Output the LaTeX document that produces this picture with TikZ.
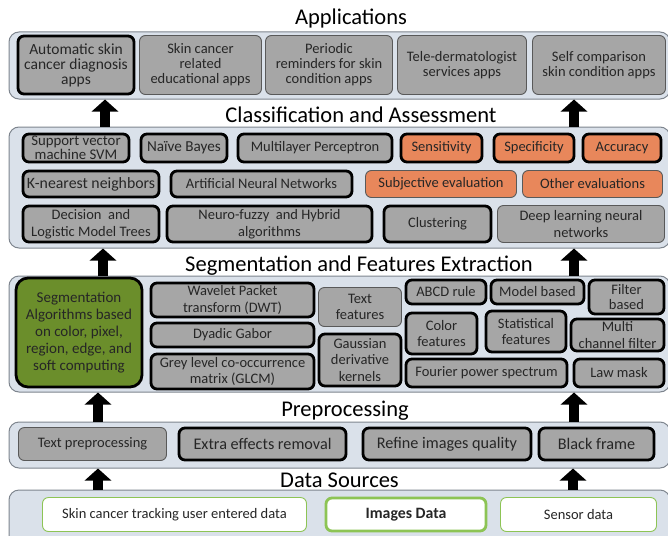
\documentclass[tikz,border=0pt]{standalone}
\usepackage{fontspec}
\setmainfont{Carlito}
\usetikzlibrary{arrows.meta}

\definecolor{panelfill}{HTML}{DAE1EA}
\definecolor{paneldraw}{HTML}{7E858E}
\definecolor{boxgray}{HTML}{A6A6A6}
\definecolor{boxline}{HTML}{595959}
\definecolor{evalorange}{HTML}{E8875B}
\definecolor{segolive}{HTML}{6B8E2B}
\definecolor{datagreen}{HTML}{8DC455}
\definecolor{txtdark}{HTML}{262626}

\tikzset{
  panel/.style={draw=paneldraw, fill=panelfill, line width=1pt, rounded corners=10pt},
  layertitle/.style={inner sep=0pt, font=\fontsize{22.5}{26}\selectfont},
  gbox/.style={draw=boxline, fill=boxgray, line width=0.9pt, rounded corners=6pt,
    align=center, inner sep=1pt, text=txtdark, font=\fontsize{14.5}{16.5}\selectfont},
  heavy/.style={draw=black, line width=2.8pt},
  appbox/.style={gbox, font=\fontsize{14.5}{15}\selectfont},
  evalbox/.style={gbox, fill=evalorange},
  databox/.style={gbox, draw=datagreen, fill=white},
  uparrow/.style={line width=10pt, -{Triangle[width=26pt,length=12pt]}},
}

\begin{document}
\begin{tikzpicture}[x=1pt, y=-1pt]

  %% ==== layer panels ====
  \node[panel, minimum width=661, minimum height=67]  (app) at (339.5,65.5)  {};
  \node[panel, minimum width=661, minimum height=121] (cls) at (339.5,187.5) {};
  \node[panel, minimum width=661, minimum height=116] (seg) at (339.5,334)   {};
  \node[panel, minimum width=661, minimum height=46]  (pre) at (339.5,445)   {};
  \node[panel, minimum width=661, minimum height=60]  (dat) at (339.5,520)   {};

  %% ==== layer titles ====
  \node[layertitle] (tApp) at (351,19)  {Applications};
  \node[layertitle] (tCls) at (361,115) {Classification and Assessment};
  \node[layertitle] (tSeg) at (359,266) {Segmentation and Features Extraction};
  \node[layertitle] (tPre) at (345,411) {Preprocessing};
  \node[layertitle] (tDat) at (339.5,480) {Data Sources};

  %% ==== Applications ====
  \node[appbox, heavy, minimum width=116, minimum height=58, font=\fontsize{15.5}{15}\selectfont] (autoDiag) at (76,65) {Automatic skin\\cancer diagnosis\\apps};
  \node[appbox, minimum width=122, minimum height=59] (eduApps)  at (200.5,65) {Skin cancer\\related\\educational apps};
  \node[appbox, minimum width=127, minimum height=59] (remApps)  at (329,65)   {Periodic\\reminders for skin\\condition apps};
  \node[appbox, minimum width=129, minimum height=59] (teleApps) at (462,65)   {Tele-dermatologist\\services apps};
  \node[appbox, minimum width=133, minimum height=59] (selfApps) at (599,65)   {Self comparison\\skin condition apps};

  %% ==== Classification and Assessment ====
  % row 1
  \node[gbox, heavy, minimum width=106, minimum height=28, inner sep=0pt, font=\fontsize{14.8}{14.5}\selectfont] (svm) at (76,148) {Support vector\\machine SVM};
  \node[gbox, heavy, minimum width=86,  minimum height=28, font=\fontsize{15.2}{16}\selectfont] (bayes) at (184,148) {Naïve Bayes};
  \node[gbox, heavy, minimum width=154, minimum height=28] (mlp)   at (315,148)   {Multilayer Perceptron};
  \node[evalbox, heavy, minimum width=81, minimum height=28] (sens) at (441.5,148) {Sensitivity};
  \node[evalbox, heavy, minimum width=80, minimum height=28] (spec) at (534,148)   {Specificity};
  \node[evalbox, heavy, minimum width=78, minimum height=28] (acc)  at (622,148)   {Accuracy};
  % row 2
  \node[gbox, heavy, minimum width=136, minimum height=26, font=\fontsize{15.8}{16}\selectfont] (knn) at (91,184) {K-nearest neighbors};
  \node[gbox, heavy, minimum width=181, minimum height=26] (ann)  at (261.5,184) {Artificial Neural Networks};
  \node[evalbox, minimum width=151, minimum height=27]     (subj) at (441,184)   {Subjective evaluation};
  \node[evalbox, minimum width=140, minimum height=27]     (othr) at (592.5,184) {Other evaluations};
  % row 3
  \node[gbox, heavy, minimum width=136, minimum height=36] (dtree) at (91,224)    {Decision~ and\\Logistic Model Trees};
  \node[gbox, heavy, minimum width=205, minimum height=36] (nfuzz) at (269.5,224) {Neuro-fuzzy~ and Hybrid\\algorithms};
  \node[gbox, heavy, minimum width=107, minimum height=36] (clust) at (437.5,224) {Clustering};
  \node[gbox, minimum width=167, minimum height=37]        (deep)  at (581,224)   {Deep learning neural\\networks};

  %% ==== Segmentation and Features Extraction ====
  \node[gbox, heavy, fill=segolive, minimum width=126, minimum height=109, rounded corners=12pt,
        font=\fontsize{15}{17.2}\selectfont] (segAlg) at (79,332.5)
        {Segmentation\\Algorithms based\\on color, pixel,\\region, edge, and\\soft computing};
  \node[gbox, heavy, minimum width=163, minimum height=34] (dwt)   at (232.5,300)   {Wavelet Packet\\transform (DWT)};
  \node[gbox, heavy, minimum width=163, minimum height=24] (gabor) at (232.5,335)   {Dyadic Gabor};
  \node[gbox, heavy, minimum width=163, minimum height=35] (glcm)  at (232.5,371.5) {Grey level co-occurrence\\matrix (GLCM)};
  \node[gbox, minimum width=83, minimum height=39]        (txtF)  at (360,307)     {Text\\features};
  \node[gbox, heavy, minimum width=82, minimum height=52] (gauss) at (360,360)     {Gaussian\\derivative\\kernels};
  \node[gbox, heavy, minimum width=80, minimum height=24] (abcd)  at (446,292)     {ABCD rule};
  \node[gbox, heavy, minimum width=93, minimum height=24] (model) at (537.5,292)   {Model based};
  \node[gbox, heavy, minimum width=75, minimum height=34, font=\fontsize{14.5}{15.5}\selectfont] (filt) at (626.5,297) {Filter\\based};
  \node[gbox, heavy, minimum width=71, minimum height=41] (colF)  at (441.5,333.5) {Color\\features};
  \node[gbox, heavy, minimum width=80, minimum height=41] (statF) at (526,331.5)   {Statistical\\features};
  \node[gbox, heavy, minimum width=93, minimum height=32] (multi) at (617.5,335)   {Multi\\channel filter};
  \node[gbox, heavy, minimum width=161, minimum height=28] (four)  at (486.5,373)   {Fourier power spectrum};
  \node[gbox, heavy, minimum width=90, minimum height=28]  (law)   at (619,373)     {Law mask};

  %% ==== Preprocessing ====
  \node[gbox, minimum width=148, minimum height=33] (txtPre) at (92.5,444) {Text preprocessing};
  \node[gbox, heavy, minimum width=167, minimum height=32, font=\fontsize{16.2}{17}\selectfont] (extra)  at (262.5,444) {Extra effects removal};
  \node[gbox, heavy, minimum width=168, minimum height=32, font=\fontsize{16.2}{17}\selectfont] (refine) at (447,444)   {Refine images quality};
  \node[gbox, heavy, minimum width=115, minimum height=32, font=\fontsize{16.2}{17}\selectfont] (bframe) at (596.5,444) {Black frame};

  %% ==== Data Sources ====
  \node[databox, minimum width=264, minimum height=34] (userData) at (174.5,514.5) {Skin cancer tracking user entered data};
  \node[databox, line width=2.8pt, minimum width=160, minimum height=33,
        font=\fontsize{15.8}{17}\selectfont\bfseries] (imgData) at (406,514.5) {Images Data};
  \node[databox, minimum width=156, minimum height=34] (sensData) at (578.5,514.5) {Sensor data};

  %% ==== flow arrows between layers ====
  \draw[uparrow] (cls.north -| 105,0) -- (app.south -| 105,0);
  \draw[uparrow] (cls.north -| 574,0) -- (app.south -| 574,0);
  \draw[uparrow] (seg.north -| 103,0) -- (cls.south -| 103,0);
  \draw[uparrow] (seg.north -| 574,0) -- (cls.south -| 574,0);
  \draw[uparrow] (pre.north -| 98,0)  -- (seg.south -| 98,0);
  \draw[uparrow] (pre.north -| 574,0) -- (seg.south -| 574,0);
  \draw[uparrow] (dat.north -| 98,0)  -- (pre.south -| 98,0);
  \draw[uparrow] (dat.north -| 573,0) -- (pre.south -| 573,0);

  % fix the canvas to the reference size
  \pgfresetboundingbox
  \path[use as bounding box] (0,0) rectangle (668,535);
\end{tikzpicture}
\end{document}
